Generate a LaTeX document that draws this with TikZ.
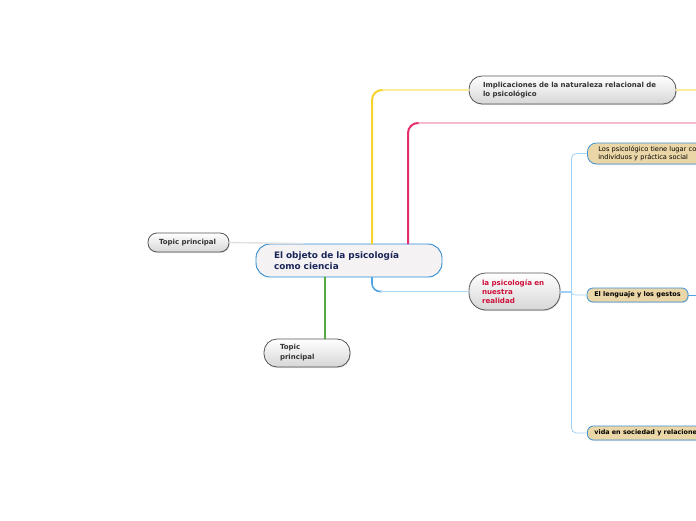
\documentclass[tikz,border=0pt]{standalone}
\usepackage{fontspec}
\setmainfont{DejaVu Sans}
\usetikzlibrary{positioning, calc, shadows}
\definecolor{centralBlue}{RGB}{47,138,208}
\definecolor{centralFill}{RGB}{244,242,242}
\definecolor{navyText}{RGB}{26,38,88}
\definecolor{topicGrey}{RGB}{85,85,85}
\definecolor{beigeFill}{RGB}{234,214,166}
\definecolor{beigeBlue}{RGB}{60,146,216}
\definecolor{redText}{RGB}{206,16,58}
\definecolor{yelStrong}{RGB}{248,210,40}
\definecolor{yelLight}{RGB}{253,236,160}
\definecolor{pinkStrong}{RGB}{226,46,106}
\definecolor{pinkLight}{RGB}{246,186,206}
\definecolor{blueStrong}{RGB}{78,164,226}
\definecolor{blueLight}{RGB}{176,218,248}
\definecolor{greenLine}{RGB}{84,170,64}
\tikzset{
	centralbox/.style={draw=centralBlue, line width=0.9pt, fill=centralFill,
		rounded corners=14pt, text width=150pt, inner xsep=18pt, minimum height=33pt,
		align=left, text=navyText, font=\bfseries\fontsize{8.9}{11}\selectfont},
	topicbox/.style={draw=topicGrey, line width=0.8pt, top color=white, bottom color=black!16,
		rounded corners=#1, align=left, inner ysep=1pt, text=black!80,
		drop shadow={opacity=0.25, shadow xshift=0.8pt, shadow yshift=-1pt}},
	topicbox/.default=9pt,
	subbox/.style={draw=beigeBlue, line width=0.8pt, fill=beigeFill, rounded corners=6pt,
		align=left, inner ysep=1pt, text=black,
		drop shadow={opacity=0.25, shadow xshift=0.8pt, shadow yshift=-1pt}},
	linkline/.style={line width=#1, line cap=round},
	linkline/.default=1.6pt
}
\begin{document}
\begin{tikzpicture}[x=1pt, y=-1pt]
	\useasboundingbox (0,0) rectangle (696,520);
	\clip (0,0) rectangle (696,520);
	% central topic
	\node[centralbox] (central) at (349,260.5) {El objeto de la psicología\\como ciencia};
	% main topics
	\node[topicbox, text width=59pt, inner xsep=11pt, minimum height=19pt,
		font=\bfseries\fontsize{7}{8}\selectfont] (leftTopic) at (188.5,242.5) {Topic principal};
	\node[topicbox=13pt, text width=54pt, inner xsep=16pt, minimum height=28pt,
		font=\bfseries\fontsize{7}{10}\selectfont] (bottomTopic) at (307,353) {Topic\\principal};
	\node[topicbox=13pt, text width=179pt, inner xsep=14pt, minimum height=28pt,
		font=\bfseries\fontsize{7}{9}\selectfont] (impl) at (572.5,90)
		{Implicaciones de la naturaleza relacional de\\lo psicológico};
	\node[topicbox=17pt, text width=65pt, inner xsep=13pt, minimum height=37pt, text=redText,
		font=\bfseries\fontsize{7.1}{9}\selectfont] (realidad) at (514.5,291.5)
		{la psicología en\\nuestra\\realidad};
	% subtopics
	\node[subbox, anchor=west, text width=160pt, inner xsep=11pt, minimum height=21pt,
		rounded corners=9pt, font=\fontsize{6.6}{8.5}\selectfont] (los) at (587,153.5)
		{Los psicológico tiene lugar con\\individuos y práctica social};
	\node[subbox, inner xsep=7pt, minimum width=101pt, minimum height=14pt,
		font=\bfseries\fontsize{6.5}{8}\selectfont] (lenguaje) at (637.5,295) {El lenguaje y los gestos};
	\node[subbox, anchor=west, inner xsep=7pt, minimum height=14pt,
		font=\bfseries\fontsize{6.4}{8}\selectfont] (vida) at (587,433) {vida en sociedad y relaciones};
	% anchor points of the branches
	\coordinate (yelBase) at ($(central.north)+(23,0)$);
	\coordinate (pinkBase) at ($(central.north)+(59,0)$);
	\coordinate (blueBase) at ($(central.south)+(23,0)$);
	\coordinate (pinkEnd) at (696,123);
	\coordinate (yelEnd) at (696,90);
	\coordinate (spine) at ($(realidad.east)+(11,0)$);
	\coordinate (lengEnd) at (696,295);
	% connectors
	\draw[linkline=1.4pt, black!12] (leftTopic.east) -- ($(central.north west)!0.25!(central.north east)$);
	\draw[linkline=2pt, greenLine] ([xshift=18pt]bottomTopic.north) -- ([xshift=18pt]bottomTopic.north |- central.south);
	\draw[linkline=2pt, yelStrong, rounded corners=10pt] (yelBase) |- ($(yelBase |- impl.west)+(12,0)$);
	\draw[linkline, yelLight] ($(yelBase |- impl.west)+(11,0)$) -- (impl.west);
	\draw[linkline, yelLight] (impl.east) -- (yelEnd);
	\draw[linkline=2pt, pinkStrong, rounded corners=10pt] (pinkBase) |- ($(pinkBase |- pinkEnd)+(12,0)$);
	\draw[linkline, pinkLight] ($(pinkBase |- pinkEnd)+(11,0)$) -- (pinkEnd);
	\draw[linkline=1.6pt, blueStrong, rounded corners=8pt] (blueBase) |- ($(blueBase |- realidad.west)+(10,0)$);
	\draw[linkline, blueLight] ($(blueBase |- realidad.west)+(9,0)$) -- (realidad.west);
	\draw[linkline=2pt, blueLight!80!blueStrong] (realidad.east) -- (spine);
	\draw[linkline=0.8pt, blueLight!85!blueStrong, rounded corners=5pt] (los.west) -| (spine) |- (vida.west);
	\draw[linkline=0.8pt, blueLight!85!blueStrong, rounded corners=3pt] (spine) |- (lenguaje.west);
	\draw[linkline=1pt, blueStrong] (lenguaje.east) -- (lengEnd);
\end{tikzpicture}
\end{document}
